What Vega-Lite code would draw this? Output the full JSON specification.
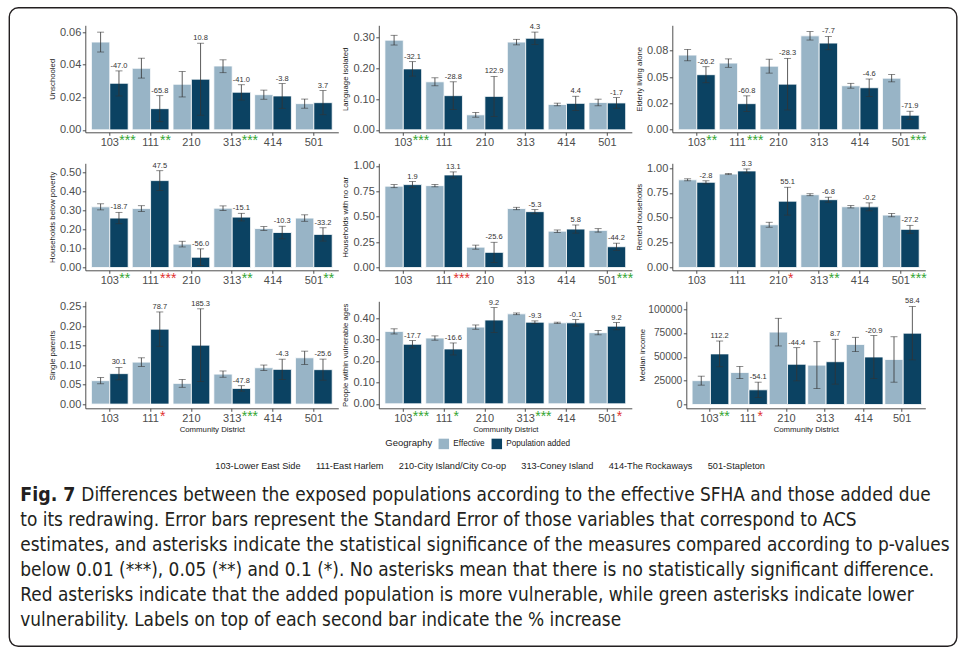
{
  "$schema": "https://vega.github.io/schema/vega-lite/v6.json",
  "padding": {"left": 8.3, "top": 6.3, "right": 0, "bottom": 0},
  "datasets": {
    "d": [
      {"v":1,"cd":"103","g":"Effective","val":0.0539,"lo":0.0478,"hi":0.0600},
      {"v":1,"cd":"103","g":"Population added","val":0.0286,"lo":0.0208,"hi":0.0362,"lab":"-47.0","sig":"***","sc":"g"},
      {"v":1,"cd":"111","g":"Effective","val":0.0378,"lo":0.0318,"hi":0.0440},
      {"v":1,"cd":"111","g":"Population added","val":0.0130,"lo":0.0050,"hi":0.0210,"lab":"-65.8","sig":"**","sc":"g"},
      {"v":1,"cd":"210","g":"Effective","val":0.0280,"lo":0.0202,"hi":0.0358},
      {"v":1,"cd":"210","g":"Population added","val":0.0311,"lo":0.0090,"hi":0.0532,"lab":"10.8"},
      {"v":1,"cd":"313","g":"Effective","val":0.0392,"lo":0.0351,"hi":0.0430},
      {"v":1,"cd":"313","g":"Population added","val":0.0231,"lo":0.0183,"hi":0.0277,"lab":"-41.0","sig":"***","sc":"g"},
      {"v":1,"cd":"414","g":"Effective","val":0.0216,"lo":0.0188,"hi":0.0244},
      {"v":1,"cd":"414","g":"Population added","val":0.0208,"lo":0.0132,"hi":0.0284,"lab":"-3.8"},
      {"v":1,"cd":"501","g":"Effective","val":0.0161,"lo":0.0133,"hi":0.0189},
      {"v":1,"cd":"501","g":"Population added","val":0.0167,"lo":0.0093,"hi":0.0241,"lab":"3.7"},

      {"v":2,"cd":"103","g":"Effective","val":0.2913,"lo":0.2755,"hi":0.3071},
      {"v":2,"cd":"103","g":"Population added","val":0.1980,"lo":0.1745,"hi":0.2215,"lab":"-32.1","sig":"***","sc":"g"},
      {"v":2,"cd":"111","g":"Effective","val":0.1560,"lo":0.1430,"hi":0.1690},
      {"v":2,"cd":"111","g":"Population added","val":0.1110,"lo":0.0660,"hi":0.1560,"lab":"-28.8"},
      {"v":2,"cd":"210","g":"Effective","val":0.0487,"lo":0.0410,"hi":0.0564},
      {"v":2,"cd":"210","g":"Population added","val":0.1086,"lo":0.0436,"hi":0.1736,"lab":"122.9"},
      {"v":2,"cd":"313","g":"Effective","val":0.2850,"lo":0.2760,"hi":0.2940},
      {"v":2,"cd":"313","g":"Population added","val":0.2975,"lo":0.2775,"hi":0.3175,"lab":"4.3"},
      {"v":2,"cd":"414","g":"Effective","val":0.0823,"lo":0.0780,"hi":0.0866},
      {"v":2,"cd":"414","g":"Population added","val":0.0860,"lo":0.0630,"hi":0.1090,"lab":"4.4"},
      {"v":2,"cd":"501","g":"Effective","val":0.0888,"lo":0.0780,"hi":0.0996},
      {"v":2,"cd":"501","g":"Population added","val":0.0873,"lo":0.0700,"hi":0.1046,"lab":"-1.7"},

      {"v":3,"cd":"103","g":"Effective","val":0.0709,"lo":0.0655,"hi":0.0763},
      {"v":3,"cd":"103","g":"Population added","val":0.0523,"lo":0.0447,"hi":0.0599,"lab":"-26.2","sig":"**","sc":"g"},
      {"v":3,"cd":"111","g":"Effective","val":0.0633,"lo":0.0593,"hi":0.0673},
      {"v":3,"cd":"111","g":"Population added","val":0.0248,"lo":0.0174,"hi":0.0322,"lab":"-60.8","sig":"***","sc":"g"},
      {"v":3,"cd":"210","g":"Effective","val":0.0604,"lo":0.0538,"hi":0.0670},
      {"v":3,"cd":"210","g":"Population added","val":0.0433,"lo":0.0188,"hi":0.0678,"lab":"-28.3"},
      {"v":3,"cd":"313","g":"Effective","val":0.0892,"lo":0.0852,"hi":0.0932},
      {"v":3,"cd":"313","g":"Population added","val":0.0823,"lo":0.0760,"hi":0.0886,"lab":"-7.7"},
      {"v":3,"cd":"414","g":"Effective","val":0.0418,"lo":0.0395,"hi":0.0441},
      {"v":3,"cd":"414","g":"Population added","val":0.0399,"lo":0.0316,"hi":0.0482,"lab":"-4.6"},
      {"v":3,"cd":"501","g":"Effective","val":0.0490,"lo":0.0455,"hi":0.0525},
      {"v":3,"cd":"501","g":"Population added","val":0.0138,"lo":0.0100,"hi":0.0176,"lab":"-71.9","sig":"***","sc":"g"},

      {"v":4,"cd":"103","g":"Effective","val":0.319,"lo":0.303,"hi":0.335},
      {"v":4,"cd":"103","g":"Population added","val":0.260,"lo":0.230,"hi":0.290,"lab":"-18.7","sig":"**","sc":"g"},
      {"v":4,"cd":"111","g":"Effective","val":0.310,"lo":0.295,"hi":0.325},
      {"v":4,"cd":"111","g":"Population added","val":0.457,"lo":0.405,"hi":0.509,"lab":"47.5","sig":"***","sc":"r"},
      {"v":4,"cd":"210","g":"Effective","val":0.123,"lo":0.108,"hi":0.138},
      {"v":4,"cd":"210","g":"Population added","val":0.054,"lo":0.010,"hi":0.098,"lab":"-56.0"},
      {"v":4,"cd":"313","g":"Effective","val":0.312,"lo":0.300,"hi":0.324},
      {"v":4,"cd":"313","g":"Population added","val":0.265,"lo":0.245,"hi":0.285,"lab":"-15.1","sig":"**","sc":"g"},
      {"v":4,"cd":"414","g":"Effective","val":0.205,"lo":0.195,"hi":0.215},
      {"v":4,"cd":"414","g":"Population added","val":0.184,"lo":0.151,"hi":0.217,"lab":"-10.3"},
      {"v":4,"cd":"501","g":"Effective","val":0.260,"lo":0.243,"hi":0.277},
      {"v":4,"cd":"501","g":"Population added","val":0.174,"lo":0.139,"hi":0.209,"lab":"-33.2","sig":"**","sc":"g"},

      {"v":5,"cd":"103","g":"Effective","val":0.800,"lo":0.785,"hi":0.815},
      {"v":5,"cd":"103","g":"Population added","val":0.815,"lo":0.785,"hi":0.845,"lab":"1.9"},
      {"v":5,"cd":"111","g":"Effective","val":0.805,"lo":0.793,"hi":0.817},
      {"v":5,"cd":"111","g":"Population added","val":0.910,"lo":0.880,"hi":0.940,"lab":"13.1","sig":"***","sc":"r"},
      {"v":5,"cd":"210","g":"Effective","val":0.200,"lo":0.180,"hi":0.220},
      {"v":5,"cd":"210","g":"Population added","val":0.149,"lo":0.050,"hi":0.248,"lab":"-25.6"},
      {"v":5,"cd":"313","g":"Effective","val":0.580,"lo":0.568,"hi":0.592},
      {"v":5,"cd":"313","g":"Population added","val":0.549,"lo":0.529,"hi":0.569,"lab":"-5.3"},
      {"v":5,"cd":"414","g":"Effective","val":0.357,"lo":0.345,"hi":0.369},
      {"v":5,"cd":"414","g":"Population added","val":0.378,"lo":0.338,"hi":0.418,"lab":"5.8"},
      {"v":5,"cd":"501","g":"Effective","val":0.365,"lo":0.348,"hi":0.382},
      {"v":5,"cd":"501","g":"Population added","val":0.204,"lo":0.169,"hi":0.239,"lab":"-44.2","sig":"***","sc":"g"},

      {"v":6,"cd":"103","g":"Effective","val":0.882,"lo":0.872,"hi":0.892},
      {"v":6,"cd":"103","g":"Population added","val":0.857,"lo":0.842,"hi":0.872,"lab":"-2.8"},
      {"v":6,"cd":"111","g":"Effective","val":0.940,"lo":0.934,"hi":0.946},
      {"v":6,"cd":"111","g":"Population added","val":0.971,"lo":0.951,"hi":0.991,"lab":"3.3"},
      {"v":6,"cd":"210","g":"Effective","val":0.430,"lo":0.405,"hi":0.455},
      {"v":6,"cd":"210","g":"Population added","val":0.667,"lo":0.527,"hi":0.807,"lab":"55.1","sig":"*","sc":"r"},
      {"v":6,"cd":"313","g":"Effective","val":0.732,"lo":0.722,"hi":0.742},
      {"v":6,"cd":"313","g":"Population added","val":0.682,"lo":0.657,"hi":0.707,"lab":"-6.8","sig":"**","sc":"g"},
      {"v":6,"cd":"414","g":"Effective","val":0.611,"lo":0.599,"hi":0.623},
      {"v":6,"cd":"414","g":"Population added","val":0.610,"lo":0.570,"hi":0.650,"lab":"-0.2"},
      {"v":6,"cd":"501","g":"Effective","val":0.527,"lo":0.510,"hi":0.544},
      {"v":6,"cd":"501","g":"Population added","val":0.384,"lo":0.344,"hi":0.424,"lab":"-27.2","sig":"***","sc":"g"},

      {"v":7,"cd":"103","g":"Effective","val":0.060,"lo":0.052,"hi":0.068},
      {"v":7,"cd":"103","g":"Population added","val":0.078,"lo":0.062,"hi":0.094,"lab":"30.1"},
      {"v":7,"cd":"111","g":"Effective","val":0.1075,"lo":0.0965,"hi":0.1185},
      {"v":7,"cd":"111","g":"Population added","val":0.192,"lo":0.148,"hi":0.236,"lab":"78.7","sig":"*","sc":"r"},
      {"v":7,"cd":"210","g":"Effective","val":0.053,"lo":0.043,"hi":0.063},
      {"v":7,"cd":"210","g":"Population added","val":0.151,"lo":0.058,"hi":0.244,"lab":"185.3"},
      {"v":7,"cd":"313","g":"Effective","val":0.0768,"lo":0.0688,"hi":0.0848},
      {"v":7,"cd":"313","g":"Population added","val":0.0401,"lo":0.0331,"hi":0.0471,"lab":"-47.8","sig":"***","sc":"g"},
      {"v":7,"cd":"414","g":"Effective","val":0.093,"lo":0.086,"hi":0.100},
      {"v":7,"cd":"414","g":"Population added","val":0.089,"lo":0.063,"hi":0.115,"lab":"-4.3"},
      {"v":7,"cd":"501","g":"Effective","val":0.1186,"lo":0.1016,"hi":0.1356},
      {"v":7,"cd":"501","g":"Population added","val":0.0882,"lo":0.0612,"hi":0.1152,"lab":"-25.6"},

      {"v":8,"cd":"103","g":"Effective","val":0.338,"lo":0.326,"hi":0.350},
      {"v":8,"cd":"103","g":"Population added","val":0.278,"lo":0.261,"hi":0.295,"lab":"-17.7","sig":"***","sc":"g"},
      {"v":8,"cd":"111","g":"Effective","val":0.307,"lo":0.297,"hi":0.317},
      {"v":8,"cd":"111","g":"Population added","val":0.256,"lo":0.228,"hi":0.284,"lab":"-16.6","sig":"*","sc":"g"},
      {"v":8,"cd":"210","g":"Effective","val":0.358,"lo":0.348,"hi":0.368},
      {"v":8,"cd":"210","g":"Population added","val":0.391,"lo":0.333,"hi":0.449,"lab":"9.2"},
      {"v":8,"cd":"313","g":"Effective","val":0.420,"lo":0.416,"hi":0.424},
      {"v":8,"cd":"313","g":"Population added","val":0.381,"lo":0.375,"hi":0.387,"lab":"-9.3","sig":"***","sc":"g"},
      {"v":8,"cd":"414","g":"Effective","val":0.378,"lo":0.375,"hi":0.381},
      {"v":8,"cd":"414","g":"Population added","val":0.378,"lo":0.363,"hi":0.393,"lab":"-0.1"},
      {"v":8,"cd":"501","g":"Effective","val":0.332,"lo":0.322,"hi":0.342},
      {"v":8,"cd":"501","g":"Population added","val":0.3625,"lo":0.3455,"hi":0.3795,"lab":"9.2","sig":"*","sc":"r"},

      {"v":9,"cd":"103","g":"Effective","val":25000,"lo":20300,"hi":29700},
      {"v":9,"cd":"103","g":"Population added","val":53050,"lo":39550,"hi":66550,"lab":"112.2","sig":"**","sc":"g"},
      {"v":9,"cd":"111","g":"Effective","val":33570,"lo":27170,"hi":39970},
      {"v":9,"cd":"111","g":"Population added","val":15410,"lo":7410,"hi":23410,"lab":"-54.1","sig":"*","sc":"r"},
      {"v":9,"cd":"210","g":"Effective","val":75870,"lo":61370,"hi":90370},
      {"v":9,"cd":"210","g":"Population added","val":42180,"lo":24780,"hi":59580,"lab":"-44.4"},
      {"v":9,"cd":"313","g":"Effective","val":41260,"lo":16660,"hi":65860},
      {"v":9,"cd":"313","g":"Population added","val":44850,"lo":21350,"hi":68350,"lab":"8.7"},
      {"v":9,"cd":"414","g":"Effective","val":62940,"lo":55440,"hi":70440},
      {"v":9,"cd":"414","g":"Population added","val":49790,"lo":27290,"hi":72290,"lab":"-20.9"},
      {"v":9,"cd":"501","g":"Effective","val":47200,"lo":23400,"hi":71000},
      {"v":9,"cd":"501","g":"Population added","val":74770,"lo":46770,"hi":102770,"lab":"58.4"}
    ],
    "cap": [
      {"line":1,"part":"b","t":"Fig. 7"},
      {"line":1,"part":"r","t":"Differences between the exposed populations according to the effective SFHA and those added due"},
      {"line":2,"part":"n","t":"to its redrawing. Error bars represent the Standard Error of those variables that correspond to ACS"},
      {"line":3,"part":"n","t":"estimates, and asterisks indicate the statistical significance of the measures compared according to p-values"},
      {"line":4,"part":"n","t":"below 0.01 (***), 0.05 (**) and 0.1 (*). No asterisks mean that there is no statistically significant difference."},
      {"line":5,"part":"n","t":"Red asterisks indicate that the added population is more vulnerable, while green asterisks indicate lower"},
      {"line":6,"part":"n","t":"vulnerability. Labels on top of each second bar indicate the % increase"}
    ]
  },
  "columns": 3,
  "spacing": {"row": 31, "column": 40.5},
  "bounds": "flush",
  "align": "none",
  "concat": [
    {
      "width": 253, "height": 107, "data": {"name": "d"},
      "transform": [{"filter": "datum.v==1"}],
      "encoding": {"x": {"field": "cd", "type": "nominal", "scale": {"paddingInner": 0.1, "paddingOuter": 0.15}, "axis": {"title": null}}},
      "layer": [
        {"mark": {"type": "bar", "stroke": "white", "strokeWidth": 0.8},
         "encoding": {"xOffset": {"field": "g", "type": "nominal"},
           "y": {"field": "val", "type": "quantitative", "scale": {"domain": [-0.0015, 0.0642], "nice": false, "zero": false}, "axis": {"title": "Unschooled", "values": [0, 0.02, 0.04, 0.06], "tickCount": 12, "format": ".2f", "labelOverlap": false}},
           "y2": {"datum": 0},
           "color": {"field": "g", "type": "nominal", "scale": {"domain": ["Effective", "Population added"], "range": ["#98b4c6", "#0b4262"]}, "legend": {"orient": "none", "legendX": 300, "legendY": 413, "direction": "horizontal", "title": "Geography", "titleOrient": "left"}}}},
        {"mark": {"type": "rule", "color": "#333333", "strokeWidth": 0.8}, "encoding": {"xOffset": {"field": "g", "type": "nominal"}, "y": {"field": "lo", "type": "quantitative"}, "y2": {"field": "hi"}}},
        {"mark": {"type": "tick", "color": "#333333", "thickness": 0.8, "size": 7}, "encoding": {"xOffset": {"field": "g", "type": "nominal"}, "y": {"field": "lo", "type": "quantitative"}}},
        {"mark": {"type": "tick", "color": "#333333", "thickness": 0.8, "size": 7}, "encoding": {"xOffset": {"field": "g", "type": "nominal"}, "y": {"field": "hi", "type": "quantitative"}}},
        {"transform": [{"filter": "datum.lab"}], "mark": {"type": "text", "fontSize": 7.5, "baseline": "bottom", "dy": -1, "color": "#333333"}, "encoding": {"xOffset": {"field": "g", "type": "nominal"}, "y": {"field": "hi", "type": "quantitative"}, "text": {"field": "lab"}}},
        {"transform": [{"filter": "datum.sc=='g'"}], "mark": {"type": "text", "fontSize": 14, "align": "left", "baseline": "middle", "dx": 9.5, "dy": 9, "color": "#33a532"}, "encoding": {"y": {"datum": -0.0015, "type": "quantitative"}, "text": {"field": "sig"}}},
        {"transform": [{"filter": "datum.sc=='r'"}], "mark": {"type": "text", "fontSize": 14, "align": "left", "baseline": "middle", "dx": 9.5, "dy": 9, "color": "#e0312f"}, "encoding": {"y": {"datum": -0.0015, "type": "quantitative"}, "text": {"field": "sig"}}}
      ]
    },
    {
      "width": 253, "height": 107, "data": {"name": "d"},
      "transform": [{"filter": "datum.v==2"}],
      "encoding": {"x": {"field": "cd", "type": "nominal", "scale": {"paddingInner": 0.1, "paddingOuter": 0.15}, "axis": {"title": null}}},
      "layer": [
        {"mark": {"type": "bar", "stroke": "white", "strokeWidth": 0.8},
         "encoding": {"xOffset": {"field": "g", "type": "nominal"},
           "y": {"field": "val", "type": "quantitative", "scale": {"domain": [-0.0081, 0.3396], "nice": false, "zero": false}, "axis": {"title": "Language isolated", "values": [0, 0.1, 0.2, 0.3], "tickCount": 12, "format": ".2f", "labelOverlap": false}},
           "y2": {"datum": 0},
           "color": {"field": "g", "type": "nominal", "scale": {"domain": ["Effective", "Population added"], "range": ["#98b4c6", "#0b4262"]}, "legend": {"orient": "none", "legendX": 300, "legendY": 413, "direction": "horizontal", "title": "Geography", "titleOrient": "left"}}}},
        {"mark": {"type": "rule", "color": "#333333", "strokeWidth": 0.8}, "encoding": {"xOffset": {"field": "g", "type": "nominal"}, "y": {"field": "lo", "type": "quantitative"}, "y2": {"field": "hi"}}},
        {"mark": {"type": "tick", "color": "#333333", "thickness": 0.8, "size": 7}, "encoding": {"xOffset": {"field": "g", "type": "nominal"}, "y": {"field": "lo", "type": "quantitative"}}},
        {"mark": {"type": "tick", "color": "#333333", "thickness": 0.8, "size": 7}, "encoding": {"xOffset": {"field": "g", "type": "nominal"}, "y": {"field": "hi", "type": "quantitative"}}},
        {"transform": [{"filter": "datum.lab"}], "mark": {"type": "text", "fontSize": 7.5, "baseline": "bottom", "dy": -1, "color": "#333333"}, "encoding": {"xOffset": {"field": "g", "type": "nominal"}, "y": {"field": "hi", "type": "quantitative"}, "text": {"field": "lab"}}},
        {"transform": [{"filter": "datum.sc=='g'"}], "mark": {"type": "text", "fontSize": 14, "align": "left", "baseline": "middle", "dx": 9.5, "dy": 9, "color": "#33a532"}, "encoding": {"y": {"datum": -0.0081, "type": "quantitative"}, "text": {"field": "sig"}}},
        {"transform": [{"filter": "datum.sc=='r'"}], "mark": {"type": "text", "fontSize": 14, "align": "left", "baseline": "middle", "dx": 9.5, "dy": 9, "color": "#e0312f"}, "encoding": {"y": {"datum": -0.0081, "type": "quantitative"}, "text": {"field": "sig"}}}
      ]
    },
    {
      "width": 253, "height": 107, "data": {"name": "d"},
      "transform": [{"filter": "datum.v==3"}],
      "encoding": {"x": {"field": "cd", "type": "nominal", "scale": {"paddingInner": 0.1, "paddingOuter": 0.15}, "axis": {"title": null}}},
      "layer": [
        {"mark": {"type": "bar", "stroke": "white", "strokeWidth": 0.8},
         "encoding": {"xOffset": {"field": "g", "type": "nominal"},
           "y": {"field": "val", "type": "quantitative", "scale": {"domain": [-0.0024, 0.0992], "nice": false, "zero": false}, "axis": {"title": "Elderly living alone", "values": [0, 0.025, 0.05, 0.075], "tickCount": 12, "labelOverlap": false, "labelExpr": "datum.value < 0.01 ? '0.00' : datum.value < 0.03 ? '0.02' : datum.value < 0.06 ? '0.05' : '0.08'"}},
           "y2": {"datum": 0},
           "color": {"field": "g", "type": "nominal", "scale": {"domain": ["Effective", "Population added"], "range": ["#98b4c6", "#0b4262"]}, "legend": {"orient": "none", "legendX": 300, "legendY": 413, "direction": "horizontal", "title": "Geography", "titleOrient": "left"}}}},
        {"mark": {"type": "rule", "color": "#333333", "strokeWidth": 0.8}, "encoding": {"xOffset": {"field": "g", "type": "nominal"}, "y": {"field": "lo", "type": "quantitative"}, "y2": {"field": "hi"}}},
        {"mark": {"type": "tick", "color": "#333333", "thickness": 0.8, "size": 7}, "encoding": {"xOffset": {"field": "g", "type": "nominal"}, "y": {"field": "lo", "type": "quantitative"}}},
        {"mark": {"type": "tick", "color": "#333333", "thickness": 0.8, "size": 7}, "encoding": {"xOffset": {"field": "g", "type": "nominal"}, "y": {"field": "hi", "type": "quantitative"}}},
        {"transform": [{"filter": "datum.lab"}], "mark": {"type": "text", "fontSize": 7.5, "baseline": "bottom", "dy": -1, "color": "#333333"}, "encoding": {"xOffset": {"field": "g", "type": "nominal"}, "y": {"field": "hi", "type": "quantitative"}, "text": {"field": "lab"}}},
        {"transform": [{"filter": "datum.sc=='g'"}], "mark": {"type": "text", "fontSize": 14, "align": "left", "baseline": "middle", "dx": 9.5, "dy": 9, "color": "#33a532"}, "encoding": {"y": {"datum": -0.0024, "type": "quantitative"}, "text": {"field": "sig"}}},
        {"transform": [{"filter": "datum.sc=='r'"}], "mark": {"type": "text", "fontSize": 14, "align": "left", "baseline": "middle", "dx": 9.5, "dy": 9, "color": "#e0312f"}, "encoding": {"y": {"datum": -0.0024, "type": "quantitative"}, "text": {"field": "sig"}}}
      ]
    },
    {
      "width": 253, "height": 107, "data": {"name": "d"},
      "transform": [{"filter": "datum.v==4"}],
      "encoding": {"x": {"field": "cd", "type": "nominal", "scale": {"paddingInner": 0.1, "paddingOuter": 0.15}, "axis": {"title": null}}},
      "layer": [
        {"mark": {"type": "bar", "stroke": "white", "strokeWidth": 0.8},
         "encoding": {"xOffset": {"field": "g", "type": "nominal"},
           "y": {"field": "val", "type": "quantitative", "scale": {"domain": [-0.0147, 0.548], "nice": false, "zero": false}, "axis": {"title": "Households below poverty", "values": [0, 0.1, 0.2, 0.3, 0.4, 0.5], "tickCount": 12, "format": ".2f", "labelOverlap": false}},
           "y2": {"datum": 0},
           "color": {"field": "g", "type": "nominal", "scale": {"domain": ["Effective", "Population added"], "range": ["#98b4c6", "#0b4262"]}, "legend": {"orient": "none", "legendX": 300, "legendY": 413, "direction": "horizontal", "title": "Geography", "titleOrient": "left"}}}},
        {"mark": {"type": "rule", "color": "#333333", "strokeWidth": 0.8}, "encoding": {"xOffset": {"field": "g", "type": "nominal"}, "y": {"field": "lo", "type": "quantitative"}, "y2": {"field": "hi"}}},
        {"mark": {"type": "tick", "color": "#333333", "thickness": 0.8, "size": 7}, "encoding": {"xOffset": {"field": "g", "type": "nominal"}, "y": {"field": "lo", "type": "quantitative"}}},
        {"mark": {"type": "tick", "color": "#333333", "thickness": 0.8, "size": 7}, "encoding": {"xOffset": {"field": "g", "type": "nominal"}, "y": {"field": "hi", "type": "quantitative"}}},
        {"transform": [{"filter": "datum.lab"}], "mark": {"type": "text", "fontSize": 7.5, "baseline": "bottom", "dy": -1, "color": "#333333"}, "encoding": {"xOffset": {"field": "g", "type": "nominal"}, "y": {"field": "hi", "type": "quantitative"}, "text": {"field": "lab"}}},
        {"transform": [{"filter": "datum.sc=='g'"}], "mark": {"type": "text", "fontSize": 14, "align": "left", "baseline": "middle", "dx": 9.5, "dy": 9, "color": "#33a532"}, "encoding": {"y": {"datum": -0.0147, "type": "quantitative"}, "text": {"field": "sig"}}},
        {"transform": [{"filter": "datum.sc=='r'"}], "mark": {"type": "text", "fontSize": 14, "align": "left", "baseline": "middle", "dx": 9.5, "dy": 9, "color": "#e0312f"}, "encoding": {"y": {"datum": -0.0147, "type": "quantitative"}, "text": {"field": "sig"}}}
      ]
    },
    {
      "width": 253, "height": 107, "data": {"name": "d"},
      "transform": [{"filter": "datum.v==5"}],
      "encoding": {"x": {"field": "cd", "type": "nominal", "scale": {"paddingInner": 0.1, "paddingOuter": 0.15}, "axis": {"title": null}}},
      "layer": [
        {"mark": {"type": "bar", "stroke": "white", "strokeWidth": 0.8},
         "encoding": {"xOffset": {"field": "g", "type": "nominal"},
           "y": {"field": "val", "type": "quantitative", "scale": {"domain": [-0.0275, 1.0246], "nice": false, "zero": false}, "axis": {"title": "Households with no car", "values": [0, 0.25, 0.5, 0.75, 1], "tickCount": 12, "format": ".2f", "labelOverlap": false}},
           "y2": {"datum": 0},
           "color": {"field": "g", "type": "nominal", "scale": {"domain": ["Effective", "Population added"], "range": ["#98b4c6", "#0b4262"]}, "legend": {"orient": "none", "legendX": 300, "legendY": 413, "direction": "horizontal", "title": "Geography", "titleOrient": "left"}}}},
        {"mark": {"type": "rule", "color": "#333333", "strokeWidth": 0.8}, "encoding": {"xOffset": {"field": "g", "type": "nominal"}, "y": {"field": "lo", "type": "quantitative"}, "y2": {"field": "hi"}}},
        {"mark": {"type": "tick", "color": "#333333", "thickness": 0.8, "size": 7}, "encoding": {"xOffset": {"field": "g", "type": "nominal"}, "y": {"field": "lo", "type": "quantitative"}}},
        {"mark": {"type": "tick", "color": "#333333", "thickness": 0.8, "size": 7}, "encoding": {"xOffset": {"field": "g", "type": "nominal"}, "y": {"field": "hi", "type": "quantitative"}}},
        {"transform": [{"filter": "datum.lab"}], "mark": {"type": "text", "fontSize": 7.5, "baseline": "bottom", "dy": -1, "color": "#333333"}, "encoding": {"xOffset": {"field": "g", "type": "nominal"}, "y": {"field": "hi", "type": "quantitative"}, "text": {"field": "lab"}}},
        {"transform": [{"filter": "datum.sc=='g'"}], "mark": {"type": "text", "fontSize": 14, "align": "left", "baseline": "middle", "dx": 9.5, "dy": 9, "color": "#33a532"}, "encoding": {"y": {"datum": -0.0275, "type": "quantitative"}, "text": {"field": "sig"}}},
        {"transform": [{"filter": "datum.sc=='r'"}], "mark": {"type": "text", "fontSize": 14, "align": "left", "baseline": "middle", "dx": 9.5, "dy": 9, "color": "#e0312f"}, "encoding": {"y": {"datum": -0.0275, "type": "quantitative"}, "text": {"field": "sig"}}}
      ]
    },
    {
      "width": 253, "height": 107, "data": {"name": "d"},
      "transform": [{"filter": "datum.v==6"}],
      "encoding": {"x": {"field": "cd", "type": "nominal", "scale": {"paddingInner": 0.1, "paddingOuter": 0.15}, "axis": {"title": null}}},
      "layer": [
        {"mark": {"type": "bar", "stroke": "white", "strokeWidth": 0.8},
         "encoding": {"xOffset": {"field": "g", "type": "nominal"},
           "y": {"field": "val", "type": "quantitative", "scale": {"domain": [-0.028, 1.048], "nice": false, "zero": false}, "axis": {"title": "Rented households", "values": [0, 0.25, 0.5, 0.75, 1], "tickCount": 12, "format": ".2f", "labelOverlap": false}},
           "y2": {"datum": 0},
           "color": {"field": "g", "type": "nominal", "scale": {"domain": ["Effective", "Population added"], "range": ["#98b4c6", "#0b4262"]}, "legend": {"orient": "none", "legendX": 300, "legendY": 413, "direction": "horizontal", "title": "Geography", "titleOrient": "left"}}}},
        {"mark": {"type": "rule", "color": "#333333", "strokeWidth": 0.8}, "encoding": {"xOffset": {"field": "g", "type": "nominal"}, "y": {"field": "lo", "type": "quantitative"}, "y2": {"field": "hi"}}},
        {"mark": {"type": "tick", "color": "#333333", "thickness": 0.8, "size": 7}, "encoding": {"xOffset": {"field": "g", "type": "nominal"}, "y": {"field": "lo", "type": "quantitative"}}},
        {"mark": {"type": "tick", "color": "#333333", "thickness": 0.8, "size": 7}, "encoding": {"xOffset": {"field": "g", "type": "nominal"}, "y": {"field": "hi", "type": "quantitative"}}},
        {"transform": [{"filter": "datum.lab"}], "mark": {"type": "text", "fontSize": 7.5, "baseline": "bottom", "dy": -1, "color": "#333333"}, "encoding": {"xOffset": {"field": "g", "type": "nominal"}, "y": {"field": "hi", "type": "quantitative"}, "text": {"field": "lab"}}},
        {"transform": [{"filter": "datum.sc=='g'"}], "mark": {"type": "text", "fontSize": 14, "align": "left", "baseline": "middle", "dx": 9.5, "dy": 9, "color": "#33a532"}, "encoding": {"y": {"datum": -0.028, "type": "quantitative"}, "text": {"field": "sig"}}},
        {"transform": [{"filter": "datum.sc=='r'"}], "mark": {"type": "text", "fontSize": 14, "align": "left", "baseline": "middle", "dx": 9.5, "dy": 9, "color": "#e0312f"}, "encoding": {"y": {"datum": -0.028, "type": "quantitative"}, "text": {"field": "sig"}}}
      ]
    },
    {
      "width": 253, "height": 107, "data": {"name": "d"},
      "transform": [{"filter": "datum.v==7"}],
      "encoding": {"x": {"field": "cd", "type": "nominal", "scale": {"paddingInner": 0.1, "paddingOuter": 0.15}, "axis": {"title": "Community District"}}},
      "layer": [
        {"mark": {"type": "bar", "stroke": "white", "strokeWidth": 0.8},
         "encoding": {"xOffset": {"field": "g", "type": "nominal"},
           "y": {"field": "val", "type": "quantitative", "scale": {"domain": [-0.0108, 0.2633], "nice": false, "zero": false}, "axis": {"title": "Single parents", "values": [0, 0.05, 0.1, 0.15, 0.2, 0.25], "tickCount": 12, "format": ".2f", "labelOverlap": false}},
           "y2": {"datum": 0},
           "color": {"field": "g", "type": "nominal", "scale": {"domain": ["Effective", "Population added"], "range": ["#98b4c6", "#0b4262"]}, "legend": {"orient": "none", "legendX": 300, "legendY": 413, "direction": "horizontal", "title": "Geography", "titleOrient": "left"}}}},
        {"mark": {"type": "rule", "color": "#333333", "strokeWidth": 0.8}, "encoding": {"xOffset": {"field": "g", "type": "nominal"}, "y": {"field": "lo", "type": "quantitative"}, "y2": {"field": "hi"}}},
        {"mark": {"type": "tick", "color": "#333333", "thickness": 0.8, "size": 7}, "encoding": {"xOffset": {"field": "g", "type": "nominal"}, "y": {"field": "lo", "type": "quantitative"}}},
        {"mark": {"type": "tick", "color": "#333333", "thickness": 0.8, "size": 7}, "encoding": {"xOffset": {"field": "g", "type": "nominal"}, "y": {"field": "hi", "type": "quantitative"}}},
        {"transform": [{"filter": "datum.lab"}], "mark": {"type": "text", "fontSize": 7.5, "baseline": "bottom", "dy": -1, "color": "#333333"}, "encoding": {"xOffset": {"field": "g", "type": "nominal"}, "y": {"field": "hi", "type": "quantitative"}, "text": {"field": "lab"}}},
        {"transform": [{"filter": "datum.sc=='g'"}], "mark": {"type": "text", "fontSize": 14, "align": "left", "baseline": "middle", "dx": 9.5, "dy": 9, "color": "#33a532"}, "encoding": {"y": {"datum": -0.0108, "type": "quantitative"}, "text": {"field": "sig"}}},
        {"transform": [{"filter": "datum.sc=='r'"}], "mark": {"type": "text", "fontSize": 14, "align": "left", "baseline": "middle", "dx": 9.5, "dy": 9, "color": "#e0312f"}, "encoding": {"y": {"datum": -0.0108, "type": "quantitative"}, "text": {"field": "sig"}}}
      ]
    },
    {
      "width": 253, "height": 107, "data": {"name": "d"},
      "transform": [{"filter": "datum.v==8"}],
      "encoding": {"x": {"field": "cd", "type": "nominal", "scale": {"paddingInner": 0.1, "paddingOuter": 0.15}, "axis": {"title": "Community District"}}},
      "layer": [
        {"mark": {"type": "bar", "stroke": "white", "strokeWidth": 0.8},
         "encoding": {"xOffset": {"field": "g", "type": "nominal"},
           "y": {"field": "val", "type": "quantitative", "scale": {"domain": [-0.021, 0.4785], "nice": false, "zero": false}, "axis": {"title": "People within vulnerable ages", "values": [0, 0.1, 0.2, 0.3, 0.4], "tickCount": 12, "format": ".2f", "labelOverlap": false}},
           "y2": {"datum": 0},
           "color": {"field": "g", "type": "nominal", "scale": {"domain": ["Effective", "Population added"], "range": ["#98b4c6", "#0b4262"]}, "legend": {"orient": "none", "legendX": 300, "legendY": 413, "direction": "horizontal", "title": "Geography", "titleOrient": "left"}}}},
        {"mark": {"type": "rule", "color": "#333333", "strokeWidth": 0.8}, "encoding": {"xOffset": {"field": "g", "type": "nominal"}, "y": {"field": "lo", "type": "quantitative"}, "y2": {"field": "hi"}}},
        {"mark": {"type": "tick", "color": "#333333", "thickness": 0.8, "size": 7}, "encoding": {"xOffset": {"field": "g", "type": "nominal"}, "y": {"field": "lo", "type": "quantitative"}}},
        {"mark": {"type": "tick", "color": "#333333", "thickness": 0.8, "size": 7}, "encoding": {"xOffset": {"field": "g", "type": "nominal"}, "y": {"field": "hi", "type": "quantitative"}}},
        {"transform": [{"filter": "datum.lab"}], "mark": {"type": "text", "fontSize": 7.5, "baseline": "bottom", "dy": -1, "color": "#333333"}, "encoding": {"xOffset": {"field": "g", "type": "nominal"}, "y": {"field": "hi", "type": "quantitative"}, "text": {"field": "lab"}}},
        {"transform": [{"filter": "datum.sc=='g'"}], "mark": {"type": "text", "fontSize": 14, "align": "left", "baseline": "middle", "dx": 9.5, "dy": 9, "color": "#33a532"}, "encoding": {"y": {"datum": -0.021, "type": "quantitative"}, "text": {"field": "sig"}}},
        {"transform": [{"filter": "datum.sc=='r'"}], "mark": {"type": "text", "fontSize": 14, "align": "left", "baseline": "middle", "dx": 9.5, "dy": 9, "color": "#e0312f"}, "encoding": {"y": {"datum": -0.021, "type": "quantitative"}, "text": {"field": "sig"}}}
      ]
    },
    {
      "width": 253, "height": 107, "data": {"name": "d"},
      "transform": [{"filter": "datum.v==9"}],
      "encoding": {"x": {"field": "cd", "type": "nominal", "scale": {"paddingInner": 0.1, "paddingOuter": 0.15, "range": [14, 253]}, "axis": {"title": "Community District"}}},
      "layer": [
        {"mark": {"type": "bar", "stroke": "white", "strokeWidth": 0.8},
         "encoding": {"xOffset": {"field": "g", "type": "nominal"},
           "y": {"field": "val", "type": "quantitative", "scale": {"domain": [-3980, 108180], "nice": false, "zero": false}, "axis": {"title": "Median income", "values": [0, 25000, 50000, 75000, 100000], "tickCount": 12, "format": "d", "labelOverlap": false, "offset": -14, "labelFontSize": 10.2, "titlePadding": 1}},
           "y2": {"datum": 0},
           "color": {"field": "g", "type": "nominal", "scale": {"domain": ["Effective", "Population added"], "range": ["#98b4c6", "#0b4262"]}, "legend": {"orient": "none", "legendX": 300, "legendY": 413, "direction": "horizontal", "title": "Geography", "titleOrient": "left"}}}},
        {"mark": {"type": "rule", "color": "#333333", "strokeWidth": 0.8}, "encoding": {"xOffset": {"field": "g", "type": "nominal"}, "y": {"field": "lo", "type": "quantitative"}, "y2": {"field": "hi"}}},
        {"mark": {"type": "tick", "color": "#333333", "thickness": 0.8, "size": 7}, "encoding": {"xOffset": {"field": "g", "type": "nominal"}, "y": {"field": "lo", "type": "quantitative"}}},
        {"mark": {"type": "tick", "color": "#333333", "thickness": 0.8, "size": 7}, "encoding": {"xOffset": {"field": "g", "type": "nominal"}, "y": {"field": "hi", "type": "quantitative"}}},
        {"transform": [{"filter": "datum.lab"}], "mark": {"type": "text", "fontSize": 7.5, "baseline": "bottom", "dy": -1, "color": "#333333"}, "encoding": {"xOffset": {"field": "g", "type": "nominal"}, "y": {"field": "hi", "type": "quantitative"}, "text": {"field": "lab"}}},
        {"transform": [{"filter": "datum.sc=='g'"}], "mark": {"type": "text", "fontSize": 14, "align": "left", "baseline": "middle", "dx": 9.5, "dy": 9, "color": "#33a532"}, "encoding": {"y": {"datum": -3980, "type": "quantitative"}, "text": {"field": "sig"}}},
        {"transform": [{"filter": "datum.sc=='r'"}], "mark": {"type": "text", "fontSize": 14, "align": "left", "baseline": "middle", "dx": 9.5, "dy": 9, "color": "#e0312f"}, "encoding": {"y": {"datum": -3980, "type": "quantitative"}, "text": {"field": "sig"}}}
      ]
    },
    {
      "width": 253, "height": 207,
      "layer": [
        {"data": {"values": [{"k": 1}]},
         "mark": {"type": "rect", "filled": false, "stroke": "#231f20", "strokeWidth": 1.4, "cornerRadius": 9},
         "encoding": {
           "x": {"datum": -30.04, "type": "quantitative", "scale": {"domain": [0, 100], "nice": false, "zero": false}, "axis": null},
           "x2": {"datum": 344.47},
           "y": {"datum": -18.48, "type": "quantitative", "scale": {"domain": [-1.22, 7.06], "nice": false, "zero": false, "reverse": true}, "axis": null},
           "y2": {"datum": 7.06}}},
        {"data": {"values": [{"t": "103-Lower East Side\u00a0\u00a0\u00a0\u00a0\u00a0\u00a0111-East Harlem\u00a0\u00a0\u00a0\u00a0\u00a0\u00a0210-City Island/City Co-op\u00a0\u00a0\u00a0\u00a0\u00a0\u00a0313-Coney Island\u00a0\u00a0\u00a0\u00a0\u00a0\u00a0414-The Rockaways\u00a0\u00a0\u00a0\u00a0\u00a0\u00a0501-Stapleton"}]},
         "mark": {"type": "text", "align": "left", "baseline": "middle", "fontSize": 9.2, "color": "#1a1a1a"},
         "encoding": {"x": {"datum": 51.38, "type": "quantitative", "axis": null}, "y": {"datum": -0.16, "type": "quantitative", "axis": null}, "text": {"field": "t"}}},
        {"data": {"name": "cap"}, "transform": [{"filter": "datum.part=='b'"}],
         "mark": {"type": "text", "align": "left", "baseline": "middle", "fontSize": 19.4, "fontWeight": "bold", "font": "DejaVu Sans Condensed, Liberation Sans", "color": "#231f20"},
         "encoding": {"x": {"datum": -25.69, "type": "quantitative", "axis": null}, "y": {"field": "line", "type": "quantitative", "axis": null}, "text": {"field": "t"}}},
        {"data": {"name": "cap"}, "transform": [{"filter": "datum.part=='r'"}],
         "mark": {"type": "text", "align": "left", "baseline": "middle", "fontSize": 18.9, "dx": 61, "font": "DejaVu Sans Condensed, Liberation Sans", "color": "#231f20"},
         "encoding": {"x": {"datum": -25.69, "type": "quantitative", "axis": null}, "y": {"field": "line", "type": "quantitative", "axis": null}, "text": {"field": "t"}}},
        {"data": {"name": "cap"}, "transform": [{"filter": "datum.part=='n'"}],
         "mark": {"type": "text", "align": "left", "baseline": "middle", "fontSize": 18.9, "font": "DejaVu Sans Condensed, Liberation Sans", "color": "#231f20"},
         "encoding": {"x": {"datum": -25.69, "type": "quantitative", "axis": null}, "y": {"field": "line", "type": "quantitative", "axis": null}, "text": {"field": "t"}}}
      ]
    }
  ],
  "config": {
    "font": "Liberation Sans",
    "view": {"stroke": null},
    "axis": {"grid": false, "domainColor": "#3c3c3c", "domainWidth": 0.9, "tickColor": "#3c3c3c", "tickWidth": 0.9, "tickSize": 3, "labelColor": "#4d4d4d", "labelFontSize": 11, "labelPadding": 1.5, "titleFontSize": 7.8, "titleFontWeight": "normal", "titleColor": "#1a1a1a", "titlePadding": 3},
    "axisY": {"labelOverlap": false},
    "axisX": {"labelAngle": 0, "titlePadding": 2},
    "legend": {"titleFontSize": 9.5, "titleFontWeight": "normal", "titleColor": "#1a1a1a", "labelFontSize": 8.2, "labelColor": "#1a1a1a", "symbolType": "square", "symbolSize": 110, "symbolStrokeWidth": 0, "columnPadding": 6, "labelOffset": 4, "titlePadding": 5}
  }
}
